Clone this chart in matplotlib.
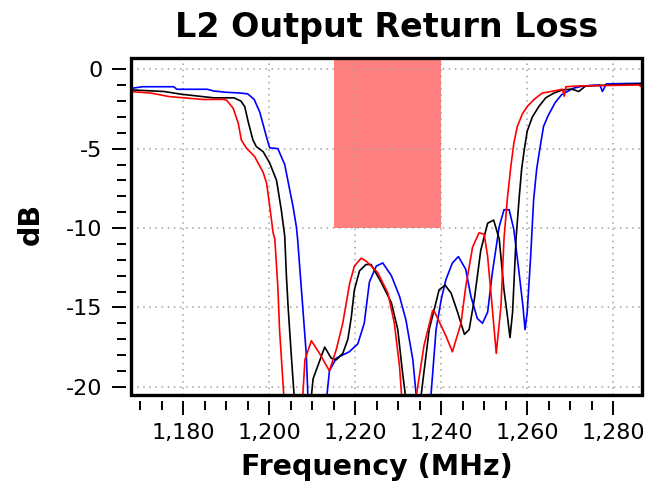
import numpy as np
import matplotlib
matplotlib.use('Agg')
import matplotlib.pyplot as plt
from matplotlib.patches import Rectangle
from matplotlib.ticker import FixedLocator, FuncFormatter

# traces: (frequency MHz, return loss dB)
blue = [(1168, -1.2), (1170.5, -1.1), (1177.8, -1.1), (1178.5, -1.26), (1185.6, -1.26),
        (1187.1, -1.37), (1190, -1.45), (1193.4, -1.5), (1195, -1.55), (1196.5, -1.9),
        (1197.8, -2.7), (1199.4, -4.3), (1200.1, -4.95), (1202.0, -5.0), (1203.6, -6.0),
        (1205.5, -8.6), (1206.3, -9.9), (1206.6, -10.7), (1207.8, -15.0), (1208.6, -17.9),
        (1209.0, -20.6), (1211.0, -22.0), (1213.4, -20.6), (1214.0, -19.0), (1215.6, -18.2),
        (1218.6, -17.8), (1220.6, -17.3), (1222.1, -16.0), (1223.3, -13.4), (1224.9, -12.4),
        (1226.4, -12.2), (1228.4, -13.0), (1230.3, -14.3), (1231.8, -15.8), (1233.4, -18.3),
        (1234.2, -20.6), (1236.0, -23.0), (1237.6, -20.6), (1238.8, -16.4), (1240.0, -14.5),
        (1241.1, -13.25), (1242.6, -12.2), (1244.0, -11.8), (1245.7, -12.6), (1246.9, -14.3),
        (1248.4, -15.7), (1249.6, -16.0), (1250.8, -15.3), (1251.9, -12.8), (1253.5, -9.9),
        (1254.6, -8.85), (1255.8, -8.85), (1256.9, -10.1), (1258.1, -12.8), (1259.0, -14.9),
        (1259.5, -16.4), (1260.0, -15.3), (1260.8, -11.8), (1261.5, -8.2), (1262.2, -6.3),
        (1263.0, -4.9), (1263.8, -3.6), (1264.9, -2.9), (1266.5, -2.1), (1268.0, -1.6),
        (1270.7, -1.2), (1273.0, -1.05), (1276.9, -0.99), (1277.5, -1.4), (1278.4, -0.92),
        (1287, -0.88)]

black = [(1168, -1.3), (1175.5, -1.4), (1179.5, -1.57), (1187.1, -1.8), (1191.8, -1.8),
         (1193.4, -2.0), (1194.3, -2.35), (1195.1, -3.3), (1196.2, -4.45), (1197.0, -4.87),
         (1198.6, -5.2), (1200.1, -5.9), (1201.7, -7.0), (1202.8, -8.85), (1203.6, -10.5),
         (1204.0, -13.05), (1204.4, -15.0), (1205.1, -17.9), (1205.8, -20.6), (1207.8, -23.0),
         (1209.8, -20.6), (1210.2, -19.5), (1212.9, -17.5), (1214.4, -18.2), (1215.6, -18.3),
         (1217.1, -17.9), (1218.3, -17.0), (1219.1, -15.6), (1219.8, -13.9), (1221.0, -12.7),
         (1222.5, -12.3), (1223.7, -12.3), (1226.0, -13.4), (1228.4, -14.7), (1229.9, -16.4),
         (1231.0, -19.1), (1231.7, -20.6), (1233.5, -23.0), (1235.3, -20.6), (1237.2, -16.4),
         (1238.4, -15.1), (1239.5, -13.9), (1240.9, -13.6), (1242.3, -14.1), (1243.8, -15.3),
         (1245.4, -16.7), (1246.5, -16.4), (1247.7, -14.5), (1249.2, -11.4), (1250.8, -9.7),
         (1252.2, -9.5), (1253.5, -10.7), (1254.6, -13.9), (1255.4, -15.55), (1256.0, -16.9),
         (1256.6, -15.3), (1257.4, -10.7), (1258.1, -8.2), (1258.7, -6.3), (1259.3, -5.1),
         (1260.0, -3.9), (1261.2, -3.0), (1262.7, -2.35), (1264.3, -1.8), (1266.2, -1.5),
         (1268.2, -1.3), (1270.4, -1.25), (1272.0, -1.4), (1273.6, -1.05), (1287, -0.92)]

red = [(1168, -1.41), (1172.5, -1.5), (1176.7, -1.72), (1184.5, -1.9), (1189.5, -1.9),
       (1190.1, -1.95), (1191.6, -2.45), (1192.8, -3.4), (1193.5, -4.45), (1194.7, -4.97),
       (1196.6, -5.5), (1198.6, -6.5), (1199.4, -7.2), (1200.1, -8.6), (1200.9, -10.3),
       (1201.3, -10.7), (1202.0, -13.7), (1202.4, -16.4), (1203.2, -19.75), (1203.4, -20.6),
       (1205.5, -23.0), (1207.8, -20.6), (1208.3, -18.3), (1209.8, -17.1), (1211.7, -17.9),
       (1214.0, -19.0), (1215.6, -17.65), (1217.1, -16.0), (1218.7, -13.5), (1219.8, -12.4),
       (1221.4, -11.9), (1222.6, -12.1), (1225.2, -12.8), (1227.6, -14.1), (1229.1, -16.0),
       (1230.3, -18.7), (1230.8, -20.6), (1232.5, -23.0), (1234.2, -20.6), (1236.0, -17.4),
       (1238.0, -15.2), (1238.4, -15.25), (1241.1, -16.8), (1242.6, -17.8), (1244.6, -16.0),
       (1245.7, -13.7), (1247.3, -11.2), (1248.8, -10.3), (1250.0, -10.4), (1250.8, -11.8),
       (1251.9, -15.1), (1252.8, -17.9), (1253.9, -14.9), (1254.6, -10.7), (1255.4, -8.1),
       (1256.2, -6.1), (1256.9, -4.65), (1257.7, -3.6), (1258.9, -2.8), (1260.0, -2.35),
       (1261.6, -1.9), (1263.5, -1.5), (1265.5, -1.4), (1268.2, -1.26), (1268.6, -1.7),
       (1269.0, -1.1), (1272.0, -1.05), (1286, -0.99), (1287, -1.2)]

# spec mask (target region)
band_lo, band_hi, band_level = 1215, 1240, -10

x_major = [1180, 1200, 1220, 1240, 1260, 1280]
x_minor = [1170, 1175, 1185, 1190, 1195, 1205, 1210, 1215, 1225, 1230, 1235,
           1245, 1250, 1255, 1265, 1270, 1275]
y_major = [0, -5, -10, -15, -20]
y_minor = [-1, -2, -3, -4, -6, -7, -8, -9, -11, -12, -13, -14, -16, -17, -18, -19]

xlim = (1167.85, 1286.7)
ylim = (-20.52, 0.71)

fig = plt.figure(figsize=(6.49, 4.87), dpi=100)
ax = fig.add_axes([131/649, 1 - 395/487, 511/649, 337/487])

ax.add_patch(Rectangle((band_lo, band_level), band_hi - band_lo, ylim[1] - band_level + 1,
                       facecolor='#ff7f7f', edgecolor='none', zorder=1))

for trace, col in [(blue, 'blue'), (black, 'black'), (red, 'red')]:
    f, db = zip(*trace)
    ax.plot(f, db, color=col, lw=1.2, zorder=2)

ax.set_xlim(*xlim)
ax.set_ylim(*ylim)

ax.xaxis.set_major_locator(FixedLocator(x_major))
ax.xaxis.set_minor_locator(FixedLocator(x_minor))
ax.yaxis.set_major_locator(FixedLocator(y_major))
ax.yaxis.set_minor_locator(FixedLocator(y_minor))
ax.xaxis.set_major_formatter(FuncFormatter(lambda v, p: f"{v:,.0f}"))
ax.yaxis.set_major_formatter(FuncFormatter(lambda v, p: f"{v:.0f}"))

ax.set_axisbelow('line')
ax.grid(True, which='major', color='#a0a0a0', linestyle=(0, (1, 3)), lw=1.1)

# detached ticks, box drawn separately
for s in ['top', 'right']:
    ax.spines[s].set_visible(False)
ax.spines['left'].set_position(('outward', 3.5))
ax.spines['bottom'].set_position(('outward', 4.5))
ax.spines['left'].set_visible(False)
ax.spines['bottom'].set_visible(False)
ax.add_patch(Rectangle((0, 0), 1, 1, transform=ax.transAxes, fill=False,
                       edgecolor='black', lw=2.4, clip_on=False, zorder=5))

ax.tick_params(which='major', direction='out', length=10, width=1.4, labelsize=16,
               color='black')
ax.tick_params(which='minor', direction='out', length=6.5, width=1.4, color='black')
ax.tick_params(axis='y', which='major', pad=7)
ax.tick_params(axis='x', which='major', pad=6)

ax.set_title('L2 Output Return Loss', fontsize=24, fontweight='bold', pad=15)
ax.set_xlabel('Frequency (MHz)', fontsize=20.5, fontweight='bold')
ax.set_ylabel('dB', fontsize=20.5, fontweight='bold')
ax.xaxis.set_label_coords(0.481, -0.173)
ax.yaxis.set_label_coords(-0.168, 0.507)

fig.savefig('out.png', dpi=100)
